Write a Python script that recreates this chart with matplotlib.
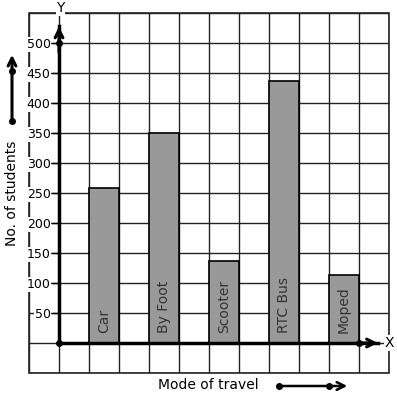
"""
Bar graph: mode of travel vs number of students (graph-paper style)
"""
import matplotlib
matplotlib.use('Agg')
import matplotlib.pyplot as plt
from matplotlib.patches import Rectangle
import numpy as np

# ==================== Data ====================
MODES = ['Car', 'By Foot', 'Scooter', 'RTC Bus', 'Moped']
STUDENTS = [258, 350, 137, 436, 113]
Y_TICKS = [50, 100, 150, 200, 250, 300, 350, 400, 450, 500]

# ==================== Figure ====================
fig = plt.figure(figsize=(3.97, 3.99), dpi=100)
fig.patch.set_facecolor('white')
ax = fig.add_axes([29/397, 1 - 373/399, 360/397, 360/399])
ax.set_xlim(-1, 11)
ax.set_ylim(-50, 550)

# graph paper grid (one cell = 1 x-unit, 50 students)
ax.set_xticks([])
ax.set_yticks(Y_TICKS)
ax.set_xticks(np.arange(-1, 12), minor=True)
ax.set_yticks(np.arange(-50, 551, 50), minor=True)
ax.grid(which='both', color='#222222', lw=1.0, zorder=0)
ax.tick_params(which='minor', length=0)
ax.add_patch(Rectangle((0, 0), 1, 1, transform=ax.transAxes, fill=False,
                       ec='#222222', lw=1.2, clip_on=False, zorder=1))

# bars
xs = [2 * i + 1 for i in range(len(MODES))]
ax.bar(xs, STUDENTS, width=1, align='edge', color='#999999',
       edgecolor='black', linewidth=1.2, zorder=2)
for x, name in zip(xs, MODES):
    ax.text(x + 0.5, 17, name, rotation=90, ha='center', va='bottom',
            fontsize=10, color='#333333', zorder=3)

# axes through the origin
for s in ('top', 'right'):
    ax.spines[s].set_visible(False)
for s in ('left', 'bottom'):
    ax.spines[s].set_position(('data', 0))
    ax.spines[s].set_linewidth(2.5)
    ax.spines[s].set_zorder(4)
ax.spines['left'].set_bounds(0, 528)
ax.spines['bottom'].set_bounds(0, 10.65)

ax.set_yticklabels([str(v) for v in Y_TICKS])
ax.tick_params(axis='y', which='major', direction='out', length=5, width=1, pad=1,
               labelsize=9, colors='black')
for lbl in ax.get_yticklabels():
    lbl.set_bbox(dict(facecolor='white', edgecolor='none', pad=0.5))

# arrow heads and dots
ax.annotate('', xy=(0, 532), xytext=(0, 480),
            arrowprops=dict(arrowstyle='->', lw=2.2, color='black', mutation_scale=14),
            zorder=5)
ax.annotate('', xy=(10.72, 0), xytext=(10, 0),
            arrowprops=dict(arrowstyle='->', lw=2.2, color='black', mutation_scale=14),
            zorder=5)
ax.plot([0, 0, 10], [0, 500, 0], 'o', color='black', ms=4, zorder=6, clip_on=False)

ax.text(0.05, 558, 'Y', ha='center', va='center', fontsize=10, clip_on=False,
        bbox=dict(facecolor='white', edgecolor='none', pad=0.5))
ax.text(11.0, 0, 'X', ha='center', va='center', fontsize=10, clip_on=False,
        bbox=dict(facecolor='white', edgecolor='none', pad=0.5), zorder=5)

# axis titles with direction arrows
fig.text(12/397, 1 - 193/399, 'No. of students', rotation=90,
         ha='center', va='center', fontsize=10)
fig.text(208/397, 1 - 385/399, 'Mode of travel', ha='center', va='center', fontsize=10)

ax.annotate('', xy=(12/397, 1 - 52/399), xytext=(12/397, 1 - 122/399),
            xycoords='figure fraction', textcoords='figure fraction',
            arrowprops=dict(arrowstyle='->', lw=2.2, color='black', mutation_scale=14))
ax.annotate('', xy=(350/397, 1 - 386/399), xytext=(279/397, 1 - 386/399),
            xycoords='figure fraction', textcoords='figure fraction',
            arrowprops=dict(arrowstyle='->', lw=1.8, color='black', mutation_scale=14))
fig.add_artist(plt.Line2D([12/397, 12/397], [1 - 71/399, 1 - 121/399],
                          marker='o', ms=4, ls='none', color='black'))
fig.add_artist(plt.Line2D([279/397, 329/397], [1 - 386/399, 1 - 386/399],
                          marker='o', ms=4, ls='none', color='black'))

fig.savefig('out.png', dpi=100)
